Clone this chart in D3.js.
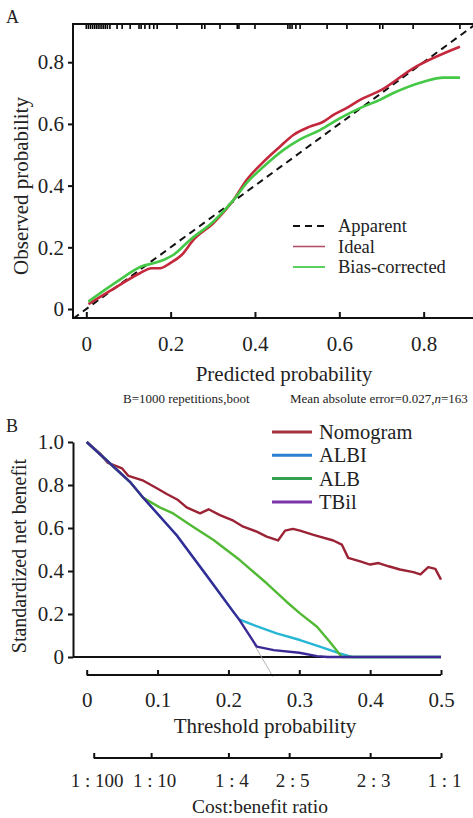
<!DOCTYPE html>
<html>
<head>
<meta charset="utf-8">
<script src="https://cdn.jsdelivr.net/npm/d3@7"></script>
<style>
  body { margin: 0; background: #fff; }
  svg { display: block; font-family: "Liberation Serif", "DejaVu Serif", serif; }
</style>
</head>
<body>
<svg id="chart" width="473" height="818"></svg>
<script>
// ---- panel A: calibration ----
const calTicks = [0, 0.2, 0.4, 0.6, 0.8];
const rugPred = [0, 0.005, 0.01, 0.015, 0.02, 0.025, 0.03, 0.035, 0.04, 0.045, 0.05, 0.056,
  0.073, 0.085, 0.104, 0.125, 0.13, 0.139, 0.15, 0.16, 0.168, 0.215, 0.274, 0.281, 0.317,
  0.358, 0.362, 0.4, 0.478, 0.483, 0.488, 0.497, 0.507, 0.571, 0.618, 0.696, 0.703, 0.775, 0.886];
const idealPred = [0.005, 0.072, 0.127, 0.155, 0.175, 0.198, 0.226, 0.254, 0.301, 0.349, 0.38, 0.42,
  0.459, 0.491, 0.53, 0.562, 0.586, 0.617, 0.649, 0.7, 0.775, 0.886];
const idealObs = [0.016, 0.072, 0.116, 0.132, 0.132, 0.148, 0.175, 0.224, 0.278, 0.353, 0.418, 0.477,
  0.526, 0.564, 0.591, 0.607, 0.629, 0.651, 0.678, 0.71, 0.78, 0.85];
const biasPred = [0.005, 0.072, 0.135, 0.159, 0.183, 0.206, 0.246, 0.301, 0.349, 0.38, 0.42, 0.467,
  0.507, 0.554, 0.601, 0.649, 0.696, 0.728, 0.8, 0.847, 0.886];
const biasObs = [0.024, 0.088, 0.14, 0.148, 0.159, 0.175, 0.224, 0.283, 0.353, 0.408, 0.461, 0.515,
  0.55, 0.58, 0.618, 0.651, 0.678, 0.7, 0.737, 0.75, 0.75];
const calLegend = ["Apparent", "Ideal", "Bias-corrected"];

// ---- panel B: decision curve ----
const dcaTicks = [0, 0.1, 0.2, 0.3, 0.4, 0.5];
const dcaYTicks = [0, 0.2, 0.4, 0.6, 0.8, 1.0];
const costTicks = [1 / 101, 1 / 11, 0.2, 2 / 7, 0.4, 0.5];
const costLabels = ["1 : 100", "1 : 10", "1 : 4", "2 : 5", "2 : 3", "1 : 1"];
const models = ["Nomogram", "ALBI", "ALB", "TBil"];
const nomoX = [0, 0.019, 0.03, 0.05, 0.059, 0.08, 0.099, 0.113, 0.129, 0.141, 0.16, 0.172, 0.188,
  0.207, 0.221, 0.24, 0.254, 0.27, 0.28, 0.291, 0.301, 0.32, 0.348, 0.36, 0.369, 0.386, 0.4,
  0.412, 0.426, 0.442, 0.461, 0.471, 0.482, 0.492, 0.5];
const nomoY = [1.0, 0.946, 0.903, 0.877, 0.842, 0.82, 0.785, 0.758, 0.73, 0.696, 0.668, 0.687, 0.66,
  0.634, 0.606, 0.583, 0.56, 0.542, 0.588, 0.596, 0.588, 0.568, 0.542, 0.523, 0.461, 0.445, 0.43,
  0.437, 0.422, 0.407, 0.395, 0.384, 0.418, 0.41, 0.36];
const albiX = [0, 0.033, 0.061, 0.08, 0.127, 0.169, 0.207, 0.215, 0.235, 0.268, 0.301, 0.329, 0.357, 0.374, 0.5];
const albiY = [1.0, 0.9, 0.815, 0.74, 0.566, 0.38, 0.21, 0.175, 0.149, 0.11, 0.079, 0.048, 0.017, 0, 0];
const albX = [0, 0.033, 0.061, 0.08, 0.103, 0.122, 0.15, 0.179, 0.216, 0.254, 0.282, 0.301, 0.325, 0.343, 0.36, 0.5];
const albY = [1.0, 0.9, 0.815, 0.74, 0.696, 0.668, 0.606, 0.544, 0.451, 0.343, 0.257, 0.203, 0.141, 0.071, 0, 0];
const tbilX = [0, 0.033, 0.061, 0.08, 0.127, 0.169, 0.207, 0.215, 0.24, 0.264, 0.3, 0.325, 0.34, 0.5];
const tbilY = [1.0, 0.9, 0.815, 0.74, 0.566, 0.38, 0.21, 0.175, 0.048, 0.032, 0.02, 0.004, 0, 0];
const allX = [0.236, 0.263];
const allY = [0.06, -0.092];

const svg = d3.select("#chart");
const zip = (xs, ys) => xs.map((x, i) => [x, ys[i]]);

// ================= panel A =================
const xA = d3.scaleLinear().domain([0, 1]).range([86.3, 508]);
const yA = d3.scaleLinear().domain([0, 1]).range([309, 0.5]);
const frameA = { left: 73, top: 24, bottom: 318, right: 473 };

const gA = svg.append("g");
gA.append("defs").append("clipPath").attr("id", "clipA")
  .append("rect").attr("x", frameA.left).attr("y", frameA.top)
  .attr("width", frameA.right - frameA.left).attr("height", frameA.bottom - frameA.top);

const lineA = d3.line().x(d => xA(d[0])).y(d => yA(d[1])).curve(d3.curveMonotoneX);

// apparent (diagonal)
gA.append("line").attr("clip-path", "url(#clipA)")
  .attr("x1", xA(-0.1)).attr("y1", yA(-0.1)).attr("x2", xA(1)).attr("y2", yA(1))
  .attr("stroke", "#111").attr("stroke-width", 2).attr("stroke-dasharray", "7,5");

gA.append("path").datum(zip(idealPred, idealObs)).attr("d", lineA)
  .attr("fill", "none").attr("stroke", "#c4283c").attr("stroke-width", 2.6);
gA.append("path").datum(zip(biasPred, biasObs)).attr("d", lineA)
  .attr("fill", "none").attr("stroke", "#45c845").attr("stroke-width", 2.6);

// rug
gA.selectAll("line.rug").data(rugPred).enter().append("line").attr("class", "rug")
  .attr("x1", d => xA(d)).attr("x2", d => xA(d))
  .attr("y1", frameA.top).attr("y2", frameA.top + 5)
  .attr("stroke", "#000").attr("stroke-width", 1.6);

// frame
gA.append("path")
  .attr("d", `M${frameA.right},${frameA.top}H${frameA.left}V${frameA.bottom}H${frameA.right}`)
  .attr("fill", "none").attr("stroke", "#111").attr("stroke-width", 2);

const fmt = d => d === 0 ? "0" : d3.format(".1f")(d);

const axALeft = gA.append("g").attr("transform", `translate(${frameA.left},0)`)
  .call(d3.axisLeft(yA).tickValues(calTicks).tickFormat(fmt).tickSize(5).tickPadding(4));
const axABottom = gA.append("g").attr("transform", `translate(0,${frameA.bottom})`)
  .call(d3.axisBottom(xA).tickValues(calTicks).tickFormat(fmt).tickSize(-6).tickPadding(18));
[axALeft, axABottom].forEach(a => {
  a.select(".domain").remove();
  a.selectAll(".tick line").attr("stroke", "#111").attr("stroke-width", 2);
  a.selectAll("text").attr("font-family", "Liberation Serif").attr("font-size", 21).attr("fill", "#222");
});

gA.append("text").attr("x", 6).attr("y", 23).attr("font-size", 18).attr("fill", "#222").text("A");
gA.append("text").attr("transform", "translate(28,186) rotate(-90)").attr("text-anchor", "middle")
  .attr("font-size", 21).attr("fill", "#222").text("Observed probability");
gA.append("text").attr("x", 284).attr("y", 381).attr("text-anchor", "middle")
  .attr("font-size", 21).attr("fill", "#222").text("Predicted probability");
gA.append("text").attr("x", 123).attr("y", 403).attr("font-size", 13).attr("fill", "#222")
  .text("B=1000 repetitions,boot");
const mae = gA.append("text").attr("x", 290).attr("y", 403).attr("font-size", 13).attr("fill", "#222");
mae.append("tspan").text("Mean absolute error=0.027,");
mae.append("tspan").attr("font-style", "italic").text("n");
mae.append("tspan").text("=163");

// legend A
const legA = gA.append("g");
const legStyles = [
  { stroke: "#111", width: 2, dash: "7,5" },
  { stroke: "#b5506a", width: 1.6, dash: null },
  { stroke: "#5cd05c", width: 2, dash: null }
];
calLegend.forEach((name, i) => {
  const y = 226 + i * 20.5;
  legA.append("line").attr("x1", 293).attr("x2", 325).attr("y1", y).attr("y2", y)
    .attr("stroke", legStyles[i].stroke).attr("stroke-width", legStyles[i].width)
    .attr("stroke-dasharray", legStyles[i].dash);
  legA.append("text").attr("x", 338).attr("y", y + 6).attr("font-size", 18.5).attr("fill", "#222").text(name);
});

// ================= panel B =================
const xB = d3.scaleLinear().domain([0, 0.5]).range([86.7, 441]);
const yB = d3.scaleLinear().domain([0, 1]).range([657, 442]);
const gB = svg.append("g");
const lineB = d3.line().x(d => xB(d[0])).y(d => yB(d[1]));

// zero line
gB.append("line").attr("x1", 73).attr("x2", xB(0.5)).attr("y1", yB(0)).attr("y2", yB(0))
  .attr("stroke", "#111").attr("stroke-width", 2);

gB.append("path").datum(zip(allX, allY)).attr("d", lineB)
  .attr("fill", "none").attr("stroke", "#aaa").attr("stroke-width", 0.9);

const modelLine = [
  { x: nomoX, y: nomoY, color: "#9b2335", leg: "#a3323c" },
  { x: albiX, y: albiY, color: "#27b6d3", leg: "#2a7fd0" },
  { x: albX, y: albY, color: "#52b934", leg: "#34a050" },
  { x: tbilX, y: tbilY, color: "#3b2a96", leg: "#7a35a8" }
];
modelLine.forEach(m => {
  gB.append("path").datum(zip(m.x, m.y)).attr("d", lineB)
    .attr("fill", "none").attr("stroke", m.color).attr("stroke-width", 2.4)
    .attr("stroke-linejoin", "round");
});

const axBLeft = gB.append("g").attr("transform", "translate(73,0)")
  .call(d3.axisLeft(yB).tickValues(dcaYTicks).tickFormat(fmt).tickSize(5).tickPadding(4).tickSizeOuter(0));
const axBBottom = gB.append("g").attr("transform", "translate(0,675)")
  .call(d3.axisBottom(xB).tickValues(dcaTicks).tickFormat(d => d === 0 ? "0" : d3.format(".1f")(d))
    .tickSize(-5).tickPadding(17).tickSizeOuter(0));
const axCost = gB.append("g").attr("transform", "translate(0,758)")
  .call(d3.axisBottom(xB).tickValues(costTicks).tickFormat((d, i) => costLabels[i])
    .tickSize(-5).tickPadding(16).tickSizeOuter(0));
axCost.select(".domain").attr("d", `M${xB(costTicks[0])},0H${xB(0.5)}`);
axBBottom.select(".domain").attr("d", `M${xB(0)},0H${xB(0.5)}`);
[axBLeft, axBBottom, axCost].forEach(a => {
  a.select(".domain").attr("stroke", "#111").attr("stroke-width", 2);
  a.selectAll(".tick line").attr("stroke", "#111").attr("stroke-width", 2);
  a.selectAll("text").attr("font-family", "Liberation Serif").attr("font-size", 21).attr("fill", "#222");
});
axCost.selectAll(".tick text").attr("font-size", 19).attr("dx", 3);

gB.append("text").attr("x", 6).attr("y", 432).attr("font-size", 18).attr("fill", "#222").text("B");
gB.append("text").attr("transform", "translate(26,556) rotate(-90)").attr("text-anchor", "middle")
  .attr("font-size", 20).attr("fill", "#222").text("Standardized net benefit");
gB.append("text").attr("x", 265).attr("y", 733).attr("text-anchor", "middle")
  .attr("font-size", 21).attr("fill", "#222").text("Threshold probability");
gB.append("text").attr("x", 260).attr("y", 813).attr("text-anchor", "middle")
  .attr("font-size", 19.5).attr("fill", "#222").text("Cost:benefit ratio");

// legend B
models.forEach((name, i) => {
  const y = 432 + i * 23.3;
  gB.append("line").attr("x1", 272).attr("x2", 312).attr("y1", y).attr("y2", y)
    .attr("stroke", modelLine[i].leg).attr("stroke-width", 3);
  gB.append("text").attr("x", 319).attr("y", y + 7).attr("font-size", 20.5).attr("fill", "#222").text(name);
});
</script>
</body>
</html>
